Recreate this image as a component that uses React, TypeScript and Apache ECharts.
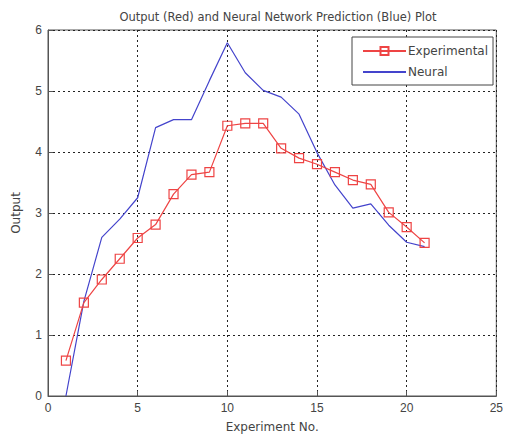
import React, { useEffect, useRef } from "react";
import * as echarts from "echarts";

const experimentNo = [1, 2, 3, 4, 5, 6, 7, 8, 9, 10, 11, 12, 13, 14, 15, 16, 17, 18, 19, 20, 21];
const experimental = [0.58, 1.53, 1.91, 2.25, 2.59, 2.81, 3.31, 3.63, 3.67, 4.43, 4.47, 4.47, 4.06, 3.9, 3.8, 3.67, 3.54, 3.47, 3.01, 2.77, 2.51];
const neural = [0, 1.55, 2.6, 2.9, 3.25, 4.4, 4.53, 4.53, 5.17, 5.79, 5.3, 5.01, 4.9, 4.62, 3.99, 3.46, 3.08, 3.15, 2.8, 2.52, 2.45];

const titleText = "Output (Red) and Neural Network Prediction (Blue) Plot";
const xName = "Experiment No.";
const yName = "Output";

const FONT = "'Liberation Sans', Arial, sans-serif";
const WIDE = "'DejaVu Sans', sans-serif";
const TXT = "#444";

export default function App() {
  const ref = useRef<HTMLDivElement>(null);
  useEffect(() => {
    if (!ref.current) return;
    const chart = echarts.init(ref.current, null, { renderer: "svg" });
    const gridLine = { show: true, lineStyle: { color: "#222", type: [2, 3] as any, width: 1 } };
    chart.setOption({
      animation: false,
      backgroundColor: "#fff",
      textStyle: { fontFamily: FONT },
      title: {
        text: titleText,
        left: 273,
        top: 6,
        textAlign: "center",
        textStyle: { fontSize: 11.5, fontWeight: "normal", color: TXT, fontFamily: WIDE },
      },
      legend: {
        orient: "vertical",
        left: 352,
        top: 37,
        padding: [8, 5, 7, 10],
        itemWidth: 43,
        itemHeight: 10,
        itemGap: 9,
        backgroundColor: "#fff",
        borderColor: "#444",
        borderWidth: 1,
        textStyle: { fontSize: 12, color: TXT, fontFamily: WIDE, padding: [0, 0, 0, -3] },
        data: [
          { name: "Experimental" },
          { name: "Neural", itemStyle: { opacity: 0 } },
        ],
      },
      grid: {
        left: 48,
        right: 7,
        top: 30,
        bottom: 40,
        show: true,
        borderColor: "#555",
        borderWidth: 1,
        backgroundColor: "transparent",
      },
      xAxis: {
        type: "value",
        min: 0,
        max: 25,
        interval: 5,
        name: xName,
        nameLocation: "middle",
        nameGap: 25,
        nameTextStyle: { fontSize: 12, color: TXT, fontFamily: WIDE },
        axisLine: { show: true, lineStyle: { color: "#555" } },
        axisTick: { show: true, inside: true, length: 5, lineStyle: { color: "#555" } },
        axisLabel: { fontSize: 12, color: TXT, fontFamily: FONT, margin: 6 },
        splitLine: gridLine,
      },
      yAxis: {
        type: "value",
        min: 0,
        max: 6,
        interval: 1,
        name: yName,
        nameLocation: "middle",
        nameGap: 26,
        nameTextStyle: { fontSize: 12, color: TXT, fontFamily: WIDE },
        axisLine: { show: true, lineStyle: { color: "#555" } },
        axisTick: { show: true, inside: true, length: 5, lineStyle: { color: "#555" } },
        axisLabel: { fontSize: 12, color: TXT, fontFamily: FONT, margin: 6 },
        splitLine: gridLine,
      },
      series: [
        {
          name: "Neural",
          type: "line",
          data: experimentNo.map((x, i) => [x, neural[i]]),
          symbol: "none",
          lineStyle: { color: "#4444cc", width: 1.2 },
          itemStyle: { color: "#4444cc" },
          z: 2,
        },
        {
          name: "Experimental",
          type: "line",
          data: experimentNo.map((x, i) => [x, experimental[i]]),
          symbol: "rect",
          symbolSize: 9,
          showAllSymbol: true,
          lineStyle: { color: "#ee4444", width: 1.2 },
          itemStyle: { color: "rgba(255,255,255,0)", borderColor: "#ee4444", borderWidth: 1.2 },
          z: 3,
        },
      ],
    });
    return () => chart.dispose();
  }, []);
  return (
    <div
      ref={ref}
      style={{ position: "fixed", left: 0, top: 0, width: 506, height: 438, background: "#fff" }}
    />
  );
}
